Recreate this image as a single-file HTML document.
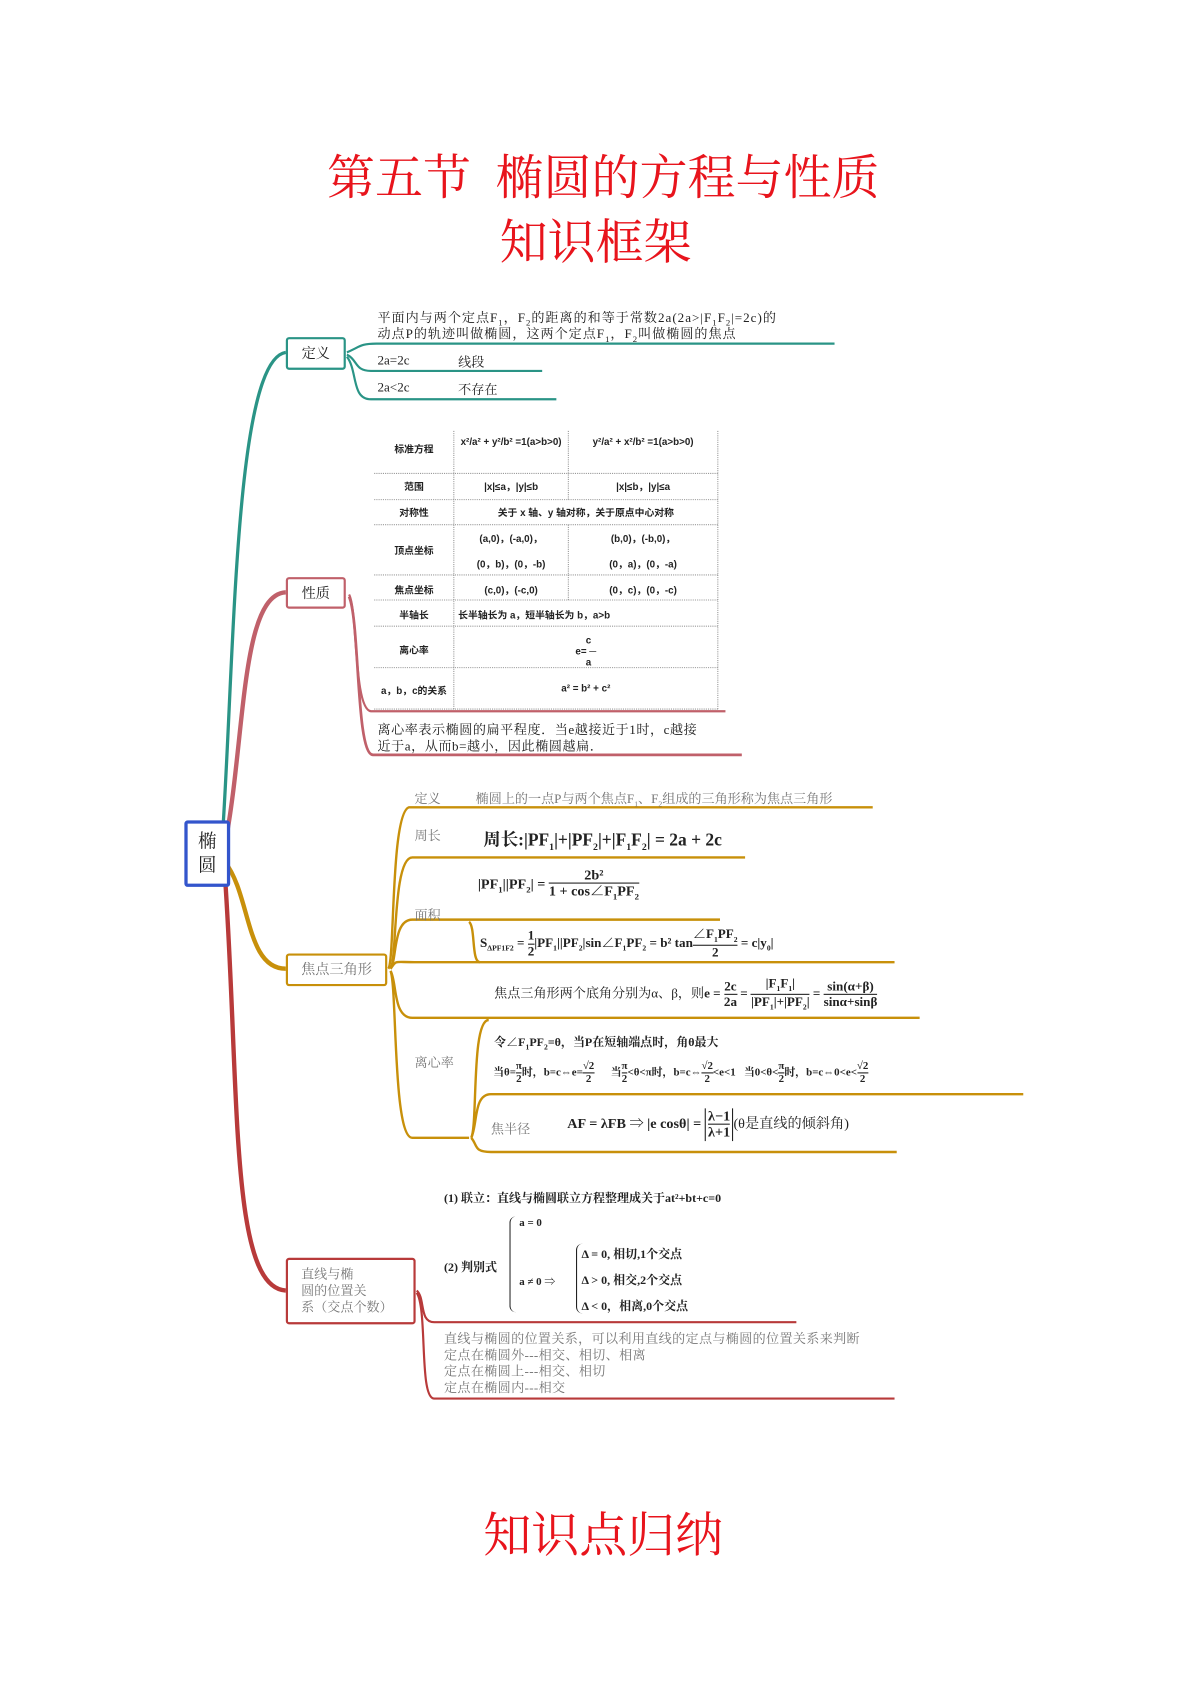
<!DOCTYPE html>
<html><head><meta charset="utf-8">
<style>
body{margin:0;background:#fff;}
#wrap{position:relative;width:1100px;height:1556px;transform:scale(1.0909);transform-origin:0 0;font-family:"Liberation Serif","Noto Serif CJK SC",serif;color:#222;}
.a{position:absolute;white-space:nowrap;}
.t{font-size:12px;}
.g{color:#777;font-size:12px;}
.b{font-weight:bold;font-family:"Liberation Serif","Noto Serif CJK SC",serif;}
.box{position:absolute;background:#fff;border:2px solid;border-radius:3px;box-sizing:border-box;font-size:13px;}
.tb{font-size:9px;font-weight:bold;font-family:"Liberation Sans","Noto Sans CJK SC",sans-serif;text-align:center;position:absolute;white-space:nowrap;}
.fr{display:inline-block;vertical-align:middle;text-align:center;}
.fr span{display:block;line-height:1.1;}
.fr .n{border-bottom:1px solid #222;}
</style></head><body>
<div id="wrap">
<div class="a" style="left:0;width:1106px;text-align:center;top:127px;font-size:44px;color:#e8141c;font-family:'Noto Serif CJK SC',serif;">第五节&nbsp;&nbsp;椭圆的方程与性质</div>
<div class="a" style="left:0;width:1092px;text-align:center;top:186px;font-size:44px;color:#e8141c;font-family:'Noto Serif CJK SC',serif;">知识框架</div>
<div class="a" style="left:0;width:1106px;text-align:center;top:1371px;font-size:44px;color:#e8141c;font-family:'Noto Serif CJK SC',serif;">知识点归纳</div>

<svg class="a" style="left:0;top:0" width="1100" height="1556" fill="none">
<path d="M204 765 C215 600,215 330,262 323" stroke="#2a9486" stroke-width="3"/>
<path d="M206 775 C225 680,220 545,262 543" stroke="#c0606a" stroke-width="4"/>
<path d="M206 790 C230 820,225 888,262 888" stroke="#c8900a" stroke-width="4"/>
<path d="M206 800 C220 1000,210 1180,262 1183" stroke="#b83a3a" stroke-width="4"/>
<path d="M318 323 C330 318,330 315,345 315 L765 315" stroke="#2a9486" stroke-width="2"/>
<path d="M318 325 C328 330,325 340,340 340 L497 340" stroke="#2a9486" stroke-width="2"/>
<path d="M318 327 C328 340,322 366,340 366 L510 366" stroke="#2a9486" stroke-width="2"/>
<path d="M320 545 C328 560,324 650,340 652 L665 652" stroke="#c0606a" stroke-width="2"/>
<path d="M320 547 C330 570,326 692,342 692 L680 692" stroke="#c0606a" stroke-width="2.5"/>
<g stroke="#c8900a" stroke-width="2.2">
<path d="M356 888 C362 880,358 745,375 740 L800 740"/>
<path d="M358 888 C364 880,360 786,378 786 L683 786"/>
<path d="M358 888 C364 880,360 843,378 843 L430 843 L660 843"/>
<path d="M358 888 C364 880,360 882,380 882 L820 882"/>
<path d="M358 890 C364 900,360 933,378 933 L843 933"/>
<path d="M358 890 C364 905,360 1043,378 1043 L430 1043"/>
<path d="M430 845 C436 850,432 882,440 882"/>
<path d="M432 1043 C438 1030,432 935,448 935"/>
<path d="M432 1043 C438 1030,434 1003,450 1003 L938 1003"/>
<path d="M432 1043 C438 1050,434 1056,450 1056 L822 1056"/>
</g>
<path d="M382 1183 C390 1190,384 1212,398 1212 L730 1212" stroke="#b83a3a" stroke-width="2"/>
<path d="M382 1185 C392 1200,384 1282,398 1282 L820 1282" stroke="#b83a3a" stroke-width="2"/>
<g stroke="#999" stroke-width="1" stroke-dasharray="1 1">
<path d="M343 434H658M343 458H658M343 481H658M343 527H658M343 550H658M343 574H658M343 612H658M343 650H658"/>
<path d="M416 395V650M521 395V458M521 481V550M658 395V650"/>
</g>
</svg>

<div class="box" style="left:169px;top:752px;width:42px;height:61px;border:3px solid #3355cc;font-size:17px;line-height:22px;text-align:center;padding-top:6px;">椭<br>圆</div>
<div class="box" style="left:262px;top:309px;width:55px;height:30px;border-color:#2a9486;text-align:center;line-height:26px;">定义</div>
<div class="box" style="left:262px;top:529px;width:55px;height:29px;border-color:#c0606a;text-align:center;line-height:25px;">性质</div>
<div class="box" style="left:262px;top:874px;width:93px;height:30px;border-color:#c8900a;text-align:center;line-height:26px;color:#777;">焦点三角形</div>
<div class="box" style="left:262px;top:1153px;width:119px;height:61px;border-color:#b83a3a;color:#777;font-size:12px;line-height:15px;padding:6px 0 0 12px;">直线与椭<br>圆的位置关<br>系（交点个数）</div>

<div class="a" style="left:346px;top:282px;font-size:12px;letter-spacing:0.9px;">平面内与两个定点F<sub style="font-size:8px">1</sub>，F<sub style="font-size:8px">2</sub>的距离的和等于常数2a(2a&gt;|F<sub style="font-size:8px">1</sub>F<sub style="font-size:8px">2</sub>|=2c)的</div>
<div class="a" style="left:346px;top:297px;font-size:12px;letter-spacing:0.9px;">动点P的轨迹叫做椭圆，这两个定点F<sub style="font-size:8px">1</sub>，F<sub style="font-size:8px">2</sub>叫做椭圆的焦点</div>
<div class="a t" style="left:346px;top:323px;">2a=2c</div><div class="a t" style="left:420px;top:323px;">线段</div>
<div class="a t" style="left:346px;top:348px;">2a&lt;2c</div><div class="a t" style="left:420px;top:348px;">不存在</div>

<div class="tb" style="left:343px;width:73px;top:405px;">标准方程</div>
<div class="tb" style="left:416px;width:105px;top:400px;">x²/a² + y²/b² =1(a&gt;b&gt;0)</div>
<div class="tb" style="left:521px;width:137px;top:400px;">y²/a² + x²/b² =1(a&gt;b&gt;0)</div>
<div class="tb" style="left:343px;width:73px;top:439px;">范围</div>
<div class="tb" style="left:416px;width:105px;top:439px;">|x|≤a，|y|≤b</div>
<div class="tb" style="left:521px;width:137px;top:439px;">|x|≤b，|y|≤a</div>
<div class="tb" style="left:343px;width:73px;top:463px;">对称性</div>
<div class="tb" style="left:416px;width:242px;top:463px;">关于 x 轴、y 轴对称，关于原点中心对称</div>
<div class="tb" style="left:343px;width:73px;top:498px;">顶点坐标</div>
<div class="tb" style="left:416px;width:105px;top:487px;">(a,0)，(-a,0)，</div>
<div class="tb" style="left:416px;width:105px;top:510px;">(0，b)，(0，-b)</div>
<div class="tb" style="left:521px;width:137px;top:487px;">(b,0)，(-b,0)，</div>
<div class="tb" style="left:521px;width:137px;top:510px;">(0，a)，(0，-a)</div>
<div class="tb" style="left:343px;width:73px;top:534px;">焦点坐标</div>
<div class="tb" style="left:416px;width:105px;top:534px;">(c,0)，(-c,0)</div>
<div class="tb" style="left:521px;width:137px;top:534px;">(0，c)，(0，-c)</div>
<div class="tb" style="left:343px;width:73px;top:557px;">半轴长</div>
<div class="tb" style="left:420px;top:557px;">长半轴长为 a，短半轴长为 b，a&gt;b</div>
<div class="tb" style="left:343px;width:73px;top:589px;">离心率</div>
<div class="tb" style="left:416px;width:242px;top:582px;line-height:10px;">&nbsp;&nbsp;c<br>e= ─<br>&nbsp;&nbsp;a</div>
<div class="tb" style="left:343px;width:73px;top:626px;">a，b，c的关系</div>
<div class="tb" style="left:416px;width:242px;top:626px;">a² = b² + c²</div>

<div class="a t" style="left:346px;top:660px;letter-spacing:0.5px;">离心率表示椭圆的扁平程度．当e越接近于1时，c越接</div>
<div class="a t" style="left:346px;top:675px;letter-spacing:0.5px;">近于a，从而b=越小，因此椭圆越扁．</div>

<div class="a g" style="left:380px;top:723px;">定义</div>
<div class="a g" style="left:436px;top:723px;">椭圆上的一点P与两个焦点F<sub style="font-size:7px">1</sub>、F<sub style="font-size:7px">2</sub>组成的三角形称为焦点三角形</div>
<div class="a g" style="left:380px;top:757px;">周长</div>
<div class="a b" style="left:443px;top:757px;font-size:16px;">周长:|PF<sub style="font-size:9px">1</sub>|+|PF<sub style="font-size:9px">2</sub>|+|F<sub style="font-size:9px">1</sub>F<sub style="font-size:9px">2</sub>| = 2a + 2c</div>
<div class="a g" style="left:380px;top:830px;">面积</div>
<div class="a b" style="left:438px;top:795px;font-size:13px;">|PF<sub style="font-size:8px">1</sub>||PF<sub style="font-size:8px">2</sub>| = <span class="fr"><span class="n">&nbsp;2b²&nbsp;</span><span>1 + cos∠F<sub style="font-size:8px">1</sub>PF<sub style="font-size:8px">2</sub></span></span></div>
<div class="a b" style="left:440px;top:850px;font-size:12px;">S<sub style="font-size:7px">ΔPF1F2</sub> = <span class="fr"><span class="n">1</span><span>2</span></span>|PF<sub style="font-size:7px">1</sub>||PF<sub style="font-size:7px">2</sub>|sin∠F<sub style="font-size:7px">1</sub>PF<sub style="font-size:7px">2</sub> = b² tan<span class="fr"><span class="n">∠F<sub style="font-size:7px">1</sub>PF<sub style="font-size:7px">2</sub></span><span>2</span></span> = c|y<sub style="font-size:7px">0</sub>|</div>
<div class="a b" style="left:453px;top:895px;font-size:12px;"><span style="font-weight:normal">焦点三角形两个底角分别为α、β，则</span>e = <span class="fr"><span class="n">2c</span><span>2a</span></span> = <span class="fr"><span class="n">|F<sub style="font-size:7px">1</sub>F<sub style="font-size:7px">1</sub>|</span><span>|PF<sub style="font-size:7px">1</sub>|+|PF<sub style="font-size:7px">2</sub>|</span></span> = <span class="fr"><span class="n">sin(α+β)</span><span>sinα+sinβ</span></span></div>
<div class="a g" style="left:380px;top:965px;">离心率</div>
<div class="a b" style="left:453px;top:947px;font-size:11px;">令∠F<sub style="font-size:7px">1</sub>PF<sub style="font-size:7px">2</sub>=θ，当P在短轴端点时，角θ最大</div>
<div class="a b" style="left:452px;top:972px;font-size:10px;">当θ=<span class="fr"><span class="n">π</span><span>2</span></span>时，b=c⇔e=<span class="fr"><span class="n">√2</span><span>2</span></span>&nbsp;&nbsp;&nbsp;&nbsp;&nbsp; 当<span class="fr"><span class="n">π</span><span>2</span></span>&lt;θ&lt;π时，b=c⇔<span class="fr"><span class="n">√2</span><span>2</span></span>&lt;e&lt;1&nbsp;&nbsp; 当0&lt;θ&lt;<span class="fr"><span class="n">π</span><span>2</span></span>时，b=c⇔0&lt;e&lt;<span class="fr"><span class="n">√2</span><span>2</span></span></div>
<div class="a g" style="left:450px;top:1026px;">焦半径</div>
<div class="a b" style="left:520px;top:1016px;font-size:13px;">AF = λFB ⇒ |e cosθ| = <span class="fr" style="border-left:1px solid #222;border-right:1px solid #222;padding:0 2px"><span class="n">λ−1</span><span>λ+1</span></span><span style="font-weight:normal">(θ是直线的倾斜角)</span></div>

<div class="a b" style="left:407px;top:1090px;font-size:11px;">(1) 联立：直线与椭圆联立方程整理成关于at²+bt+c=0</div>
<div class="a b" style="left:407px;top:1153px;font-size:11px;">(2) 判别式</div>
<div class="a" style="left:467px;top:1115px;width:6px;height:88px;border-left:1px solid #222;border-radius:6px 0 0 6px;"></div>
<div class="a b" style="left:476px;top:1116px;font-size:10px;">a = 0</div>
<div class="a b" style="left:476px;top:1166px;font-size:10px;">a ≠ 0 ⇒</div>
<div class="a" style="left:528px;top:1140px;width:5px;height:64px;border-left:1px solid #222;border-radius:6px 0 0 6px;"></div>
<div class="a b" style="left:533px;top:1141px;font-size:11px;">Δ = 0, 相切,1个交点</div>
<div class="a b" style="left:533px;top:1165px;font-size:11px;">Δ &gt; 0, 相交,2个交点</div>
<div class="a b" style="left:533px;top:1189px;font-size:11px;">Δ &lt; 0，相离,0个交点</div>
<div class="a g" style="left:407px;top:1220px;line-height:15px;letter-spacing:0.3px;">直线与椭圆的位置关系，可以利用直线的定点与椭圆的位置关系来判断<br>定点在椭圆外---相交、相切、相离<br>定点在椭圆上---相交、相切<br>定点在椭圆内---相交</div>
</div>
</body></html>
